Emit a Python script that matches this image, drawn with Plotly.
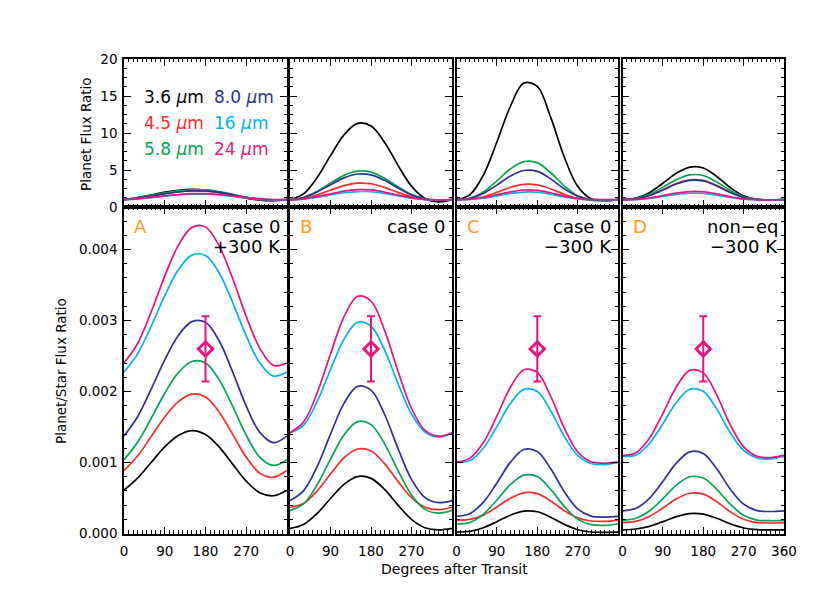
import plotly.graph_objects as go

# ---------------- data ----------------
PHASE = [0, 30, 60, 90, 120, 150, 180, 210, 240, 270, 300, 330, 360]
WAVELENGTHS = ["3.6", "4.5", "5.8", "8.0", "16", "24"]
COLORS = ["#000000", "#ff2a2a", "#00a651", "#2e3192", "#00b3f0", "#ec1380"]
PANELS = ["A", "B", "C", "D"]
CASE_LINE1 = ["case 0", "case 0", "case 0", "non\u2212eq"]
CASE_LINE2 = ["+300 K", "", "\u2212300 K", "\u2212300 K"]

X_TICKS = [0, 90, 180, 270, 360]
TOP_Y_TICKS = [0, 5, 10, 15, 20]
BOT_Y_TICKS = [0.0, 0.001, 0.002, 0.003, 0.004]
BOT_Y_TEXT = ["0.000", "0.001", "0.002", "0.003", "0.004"]

# Planet/Star flux ratio, in units of 1e-3
A_STAR_36 = [0.61, 0.78, 1.00, 1.22, 1.38, 1.45, 1.395, 1.22, 0.977, 0.738, 0.574, 0.532, 0.61]
A_STAR_45 = [0.887, 1.093, 1.366, 1.642, 1.858, 1.964, 1.924, 1.713, 1.396, 1.075, 0.85, 0.793, 0.887]
A_STAR_58 = [1.04, 1.286, 1.622, 1.976, 2.266, 2.424, 2.403, 2.168, 1.79, 1.384, 1.074, 0.96, 1.04]
A_STAR_80 = [1.373, 1.645, 2.034, 2.447, 2.79, 2.985, 2.975, 2.715, 2.276, 1.795, 1.425, 1.28, 1.373]
A_STAR_16 = [2.274, 2.53, 2.92, 3.35, 3.715, 3.922, 3.917, 3.673, 3.254, 2.784, 2.401, 2.217, 2.274]
A_STAR_24 = [2.402, 2.677, 3.123, 3.627, 4.06, 4.313, 4.319, 4.054, 3.59, 3.058, 2.609, 2.369, 2.402]

B_STAR_36 = [0.071, 0.126, 0.281, 0.493, 0.692, 0.802, 0.777, 0.622, 0.40, 0.20, 0.082, 0.05, 0.071]
B_STAR_45 = [0.37, 0.422, 0.598, 0.839, 1.066, 1.191, 1.163, 0.985, 0.734, 0.506, 0.371, 0.335, 0.37]
B_STAR_58 = [0.325, 0.416, 0.682, 1.046, 1.388, 1.577, 1.534, 1.266, 0.887, 0.543, 0.34, 0.286, 0.325]
B_STAR_80 = [0.465, 0.601, 0.938, 1.40, 1.833, 2.073, 2.019, 1.68, 1.198, 0.763, 0.505, 0.436, 0.465]
B_STAR_16 = [1.42, 1.523, 1.856, 2.31, 2.737, 2.974, 2.92, 2.586, 2.111, 1.683, 1.428, 1.36, 1.42]
B_STAR_24 = [1.42, 1.569, 1.975, 2.53, 3.052, 3.34, 3.274, 2.866, 2.287, 1.764, 1.454, 1.371, 1.42]

C_STAR_36 = [0.019, 0.032, 0.082, 0.167, 0.258, 0.315, 0.306, 0.23, 0.129, 0.053, 0.021, 0.016, 0.019]
C_STAR_45 = [0.188, 0.20, 0.259, 0.373, 0.496, 0.573, 0.561, 0.458, 0.323, 0.22, 0.176, 0.17, 0.188]
C_STAR_58 = [0.134, 0.154, 0.272, 0.472, 0.688, 0.822, 0.802, 0.621, 0.383, 0.202, 0.126, 0.115, 0.134]
C_STAR_80 = [0.24, 0.282, 0.441, 0.711, 1.002, 1.183, 1.155, 0.912, 0.591, 0.347, 0.245, 0.23, 0.24]
C_STAR_16 = [1.005, 1.028, 1.205, 1.506, 1.83, 2.031, 2.0, 1.729, 1.372, 1.101, 0.986, 0.97, 1.005]
C_STAR_24 = [1.005, 1.062, 1.282, 1.655, 2.057, 2.306, 2.268, 1.932, 1.488, 1.152, 1.01, 0.99, 1.005]

D_STAR_36 = [0.052, 0.063, 0.101, 0.167, 0.237, 0.281, 0.274, 0.215, 0.137, 0.078, 0.054, 0.05, 0.052]
D_STAR_45 = [0.154, 0.171, 0.241, 0.36, 0.488, 0.567, 0.555, 0.448, 0.307, 0.2, 0.154, 0.148, 0.154]
D_STAR_58 = [0.184, 0.214, 0.317, 0.492, 0.681, 0.799, 0.781, 0.623, 0.414, 0.256, 0.189, 0.18, 0.184]
D_STAR_80 = [0.32, 0.356, 0.496, 0.734, 0.991, 1.15, 1.126, 0.911, 0.628, 0.413, 0.323, 0.31, 0.32]
D_STAR_16 = [1.09, 1.104, 1.268, 1.546, 1.846, 2.032, 2.004, 1.753, 1.422, 1.171, 1.065, 1.05, 1.09]
D_STAR_24 = [1.10, 1.138, 1.343, 1.69, 2.065, 2.298, 2.263, 1.949, 1.535, 1.221, 1.089, 1.07, 1.10]

# Planet flux ratio (top row)
A_PLAN_36 = [1, 1.28, 1.64, 2.0, 2.26, 2.38, 2.29, 2.0, 1.60, 1.21, 0.94, 0.87, 1]
A_PLAN_45 = [1, 1.23, 1.54, 1.85, 2.09, 2.21, 2.17, 1.93, 1.57, 1.21, 0.96, 0.89, 1]
A_PLAN_58 = [1, 1.24, 1.56, 1.90, 2.18, 2.33, 2.31, 2.08, 1.72, 1.33, 1.03, 0.92, 1]
A_PLAN_80 = [1, 1.20, 1.48, 1.78, 2.03, 2.17, 2.17, 1.98, 1.66, 1.31, 1.04, 0.93, 1]
A_PLAN_16 = [1, 1.11, 1.28, 1.47, 1.63, 1.72, 1.72, 1.62, 1.43, 1.22, 1.06, 0.97, 1]
A_PLAN_24 = [1, 1.11, 1.30, 1.51, 1.69, 1.80, 1.80, 1.69, 1.49, 1.27, 1.09, 0.99, 1]

B_PLAN_36 = [1, 1.77, 3.96, 6.94, 9.75, 11.30, 10.94, 8.76, 5.63, 2.82, 1.15, 0.70, 1]
B_PLAN_45 = [1, 1.14, 1.62, 2.27, 2.88, 3.22, 3.14, 2.66, 1.98, 1.37, 1.00, 0.91, 1]
B_PLAN_58 = [1, 1.28, 2.10, 3.22, 4.27, 4.85, 4.72, 3.90, 2.73, 1.67, 1.05, 0.88, 1]
B_PLAN_80 = [1, 1.29, 2.02, 3.01, 3.94, 4.46, 4.34, 3.61, 2.58, 1.64, 1.09, 0.94, 1]
B_PLAN_16 = [1, 1.07, 1.31, 1.63, 1.93, 2.09, 2.06, 1.82, 1.49, 1.19, 1.01, 0.96, 1]
B_PLAN_24 = [1, 1.11, 1.39, 1.78, 2.15, 2.35, 2.31, 2.02, 1.61, 1.24, 1.02, 0.97, 1]

C_PLAN_36 = [1, 1.68, 4.32, 8.79, 13.58, 16.75, 16.30, 12.11, 6.79, 2.79, 1.11, 0.84, 1]
C_PLAN_45 = [1, 1.06, 1.38, 1.98, 2.64, 3.05, 2.98, 2.44, 1.72, 1.17, 0.94, 0.90, 1]
C_PLAN_58 = [1, 1.15, 2.03, 3.52, 5.13, 6.13, 5.99, 4.63, 2.86, 1.51, 0.94, 0.86, 1]
C_PLAN_80 = [1, 1.18, 1.84, 2.96, 4.18, 4.93, 4.81, 3.80, 2.46, 1.45, 1.02, 0.96, 1]
C_PLAN_16 = [1, 1.02, 1.20, 1.50, 1.82, 2.02, 1.99, 1.72, 1.37, 1.10, 0.98, 0.97, 1]
C_PLAN_24 = [1, 1.06, 1.28, 1.65, 2.05, 2.30, 2.26, 1.92, 1.48, 1.15, 1.01, 0.99, 1]

D_PLAN_36 = [1, 1.21, 1.94, 3.21, 4.56, 5.40, 5.27, 4.13, 2.63, 1.50, 1.04, 0.96, 1]
D_PLAN_45 = [1, 1.11, 1.57, 2.34, 3.17, 3.68, 3.60, 2.91, 1.99, 1.30, 1.00, 0.96, 1]
D_PLAN_58 = [1, 1.16, 1.72, 2.67, 3.70, 4.34, 4.25, 3.39, 2.25, 1.39, 1.03, 0.98, 1]
D_PLAN_80 = [1, 1.11, 1.55, 2.29, 3.10, 3.59, 3.52, 2.85, 1.96, 1.29, 1.01, 0.97, 1]
D_PLAN_16 = [1, 1.01, 1.16, 1.42, 1.69, 1.86, 1.84, 1.61, 1.31, 1.07, 0.98, 0.96, 1]
D_PLAN_24 = [1, 1.03, 1.22, 1.54, 1.88, 2.09, 2.06, 1.77, 1.40, 1.11, 0.99, 0.97, 1]

# observed 24 micron point
OBS_PHASE = 180
OBS_VALUE = 0.0026
OBS_ERR = 0.00046

STAR = {
    "A": [A_STAR_36, A_STAR_45, A_STAR_58, A_STAR_80, A_STAR_16, A_STAR_24],
    "B": [B_STAR_36, B_STAR_45, B_STAR_58, B_STAR_80, B_STAR_16, B_STAR_24],
    "C": [C_STAR_36, C_STAR_45, C_STAR_58, C_STAR_80, C_STAR_16, C_STAR_24],
    "D": [D_STAR_36, D_STAR_45, D_STAR_58, D_STAR_80, D_STAR_16, D_STAR_24],
}
PLAN = {
    "A": [A_PLAN_36, A_PLAN_45, A_PLAN_58, A_PLAN_80, A_PLAN_16, A_PLAN_24],
    "B": [B_PLAN_36, B_PLAN_45, B_PLAN_58, B_PLAN_80, B_PLAN_16, B_PLAN_24],
    "C": [C_PLAN_36, C_PLAN_45, C_PLAN_58, C_PLAN_80, C_PLAN_16, C_PLAN_24],
    "D": [D_PLAN_36, D_PLAN_45, D_PLAN_58, D_PLAN_80, D_PLAN_16, D_PLAN_24],
}

# ---------------- layout ----------------
W, H = 830, 593
FONT = "DejaVu Sans"
COL_PX = [(124, 287), (290, 452), (456.5, 618), (622.5, 784)]
TOP_PX = (59, 207)
BOT_PX = (207, 533.5)
ORANGE = "#ff9a1f"
PINK = COLORS[5]


def px(x):
    return x / W


def py(y):
    return 1 - y / H


def ref(name, i):
    return name if i == 1 else f"{name}{i}"


def fnt(size, color="black"):
    return dict(family=FONT, size=size, color=color)


fig = go.Figure()
layout = dict(
    template="none",
    width=W, height=H, autosize=False,
    margin=dict(l=0, r=0, t=0, b=0, pad=0),
    paper_bgcolor="white", plot_bgcolor="white",
    showlegend=False,
    font=fnt(13.5),
)

for ci, panel in enumerate(PANELS):
    xdom = [px(COL_PX[ci][0]), px(COL_PX[ci][1])]
    for row in (0, 1):
        idx = ci + 1 + 4 * row
        ypx = TOP_PX if row == 0 else BOT_PX
        ydom = [py(ypx[1]), py(ypx[0])]
        xvals = X_TICKS if ci == 3 else X_TICKS[:-1]
        layout["xaxis" + ("" if idx == 1 else str(idx))] = dict(
            domain=xdom, anchor=ref("y", idx), range=[0, 360], automargin=False,
            showline=True, linecolor="black", linewidth=1.5, mirror="allticks",
            ticks="inside", ticklen=7, tickwidth=1.3, tickcolor="black",
            tickmode="array", tickvals=xvals, ticktext=[str(v) for v in xvals],
            showticklabels=(row == 1), ticklabelstandoff=5,
            minor=dict(tickmode="linear", tick0=0, dtick=10, ticks="inside",
                       ticklen=3.5, tickwidth=1, tickcolor="black"),
            showgrid=False, zeroline=False,
            tickfont=fnt(13.5),
        )
        if row == 0:
            yax = dict(range=[0, 20], tickmode="array", tickvals=TOP_Y_TICKS,
                       ticktext=[str(v) for v in TOP_Y_TICKS],
                       minor=dict(tickmode="linear", tick0=0, dtick=1.25, ticks="inside",
                                  ticklen=3.5, tickwidth=1, tickcolor="black"))
        else:
            yax = dict(range=[0, 0.0046], tickmode="array", tickvals=BOT_Y_TICKS,
                       ticktext=BOT_Y_TEXT,
                       minor=dict(tickmode="linear", tick0=0, dtick=0.0002, ticks="inside",
                                  ticklen=3.5, tickwidth=1, tickcolor="black"))
        yax.update(
            domain=ydom, anchor=ref("x", idx), automargin=False,
            showline=True, linecolor="black", linewidth=1.5, mirror="allticks",
            ticks="inside", ticklen=7, tickwidth=1.3, tickcolor="black",
            showticklabels=(ci == 0), ticklabelstandoff=2,
            showgrid=False, zeroline=False,
            tickfont=fnt(13.5),
        )
        layout["yaxis" + ("" if idx == 1 else str(idx))] = yax

    for wi in range(len(WAVELENGTHS)):
        fig.add_trace(go.Scatter(
            x=PHASE, y=PLAN[panel][wi], xaxis=ref("x", ci + 1), yaxis=ref("y", ci + 1),
            mode="lines", line=dict(color=COLORS[wi], width=1.7, shape="spline"),
            hoverinfo="skip"))
        fig.add_trace(go.Scatter(
            x=PHASE, y=[v * 1e-3 for v in STAR[panel][wi]],
            xaxis=ref("x", ci + 5), yaxis=ref("y", ci + 5),
            mode="lines", line=dict(color=COLORS[wi], width=1.7, shape="spline"),
            hoverinfo="skip"))

    # observed point
    fig.add_trace(go.Scatter(
        x=[OBS_PHASE], y=[OBS_VALUE], xaxis=ref("x", ci + 5), yaxis=ref("y", ci + 5),
        mode="markers",
        marker=dict(symbol="diamond-open", size=11, color=PINK, line=dict(width=3, color=PINK)),
        error_y=dict(type="data", array=[OBS_ERR], color=PINK, thickness=2, width=4),
        hoverinfo="skip"))

annotations = []
# panel letters and case labels
for ci, panel in enumerate(PANELS):
    left, right = COL_PX[ci]
    annotations.append(dict(text=panel, x=px(left + 8), y=py(226), xref="paper", yref="paper",
                            xanchor="left", yanchor="middle", showarrow=False,
                            font=fnt(18, ORANGE)))
    annotations.append(dict(text=CASE_LINE1[ci], x=px(right - 4), y=py(226), xref="paper",
                            yref="paper", xanchor="right", yanchor="middle", showarrow=False,
                            font=fnt(18)))
    if CASE_LINE2[ci]:
        annotations.append(dict(text=CASE_LINE2[ci], x=px(right - 4), y=py(246), xref="paper",
                                yref="paper", xanchor="right", yanchor="middle",
                                showarrow=False, font=fnt(18)))

# wavelength key in panel A top
KEY_POS = [(142, 97), (142, 123), (142, 149), (212, 97), (212, 123), (212, 149)]
for wi, wl in enumerate(WAVELENGTHS):
    kx, ky = KEY_POS[wi]
    annotations.append(dict(text=f"{wl} <i>\u03bc</i>m", x=px(kx), y=py(ky), xref="paper",
                            yref="paper", xanchor="left", yanchor="middle", showarrow=False,
                            font=fnt(17, COLORS[wi])))

# axis titles
annotations.append(dict(text="Planet Flux Ratio", x=px(86), y=py(134), xref="paper",
                        yref="paper", textangle=-90, showarrow=False,
                        xanchor="center", yanchor="middle", font=fnt(13.5)))
annotations.append(dict(text="Planet/Star Flux Ratio", x=px(61), y=py(371), xref="paper",
                        yref="paper", textangle=-90, showarrow=False,
                        xanchor="center", yanchor="middle", font=fnt(13.5)))
annotations.append(dict(text="Degrees after Transit", x=px(454), y=py(569), xref="paper",
                        yref="paper", showarrow=False, xanchor="center", yanchor="middle",
                        font=fnt(14)))

layout["annotations"] = annotations
fig.update_layout(**layout)
fig.write_html("out.html", config={"displayModeBar": False},
               post_script="document.body.style.margin='0px';")
